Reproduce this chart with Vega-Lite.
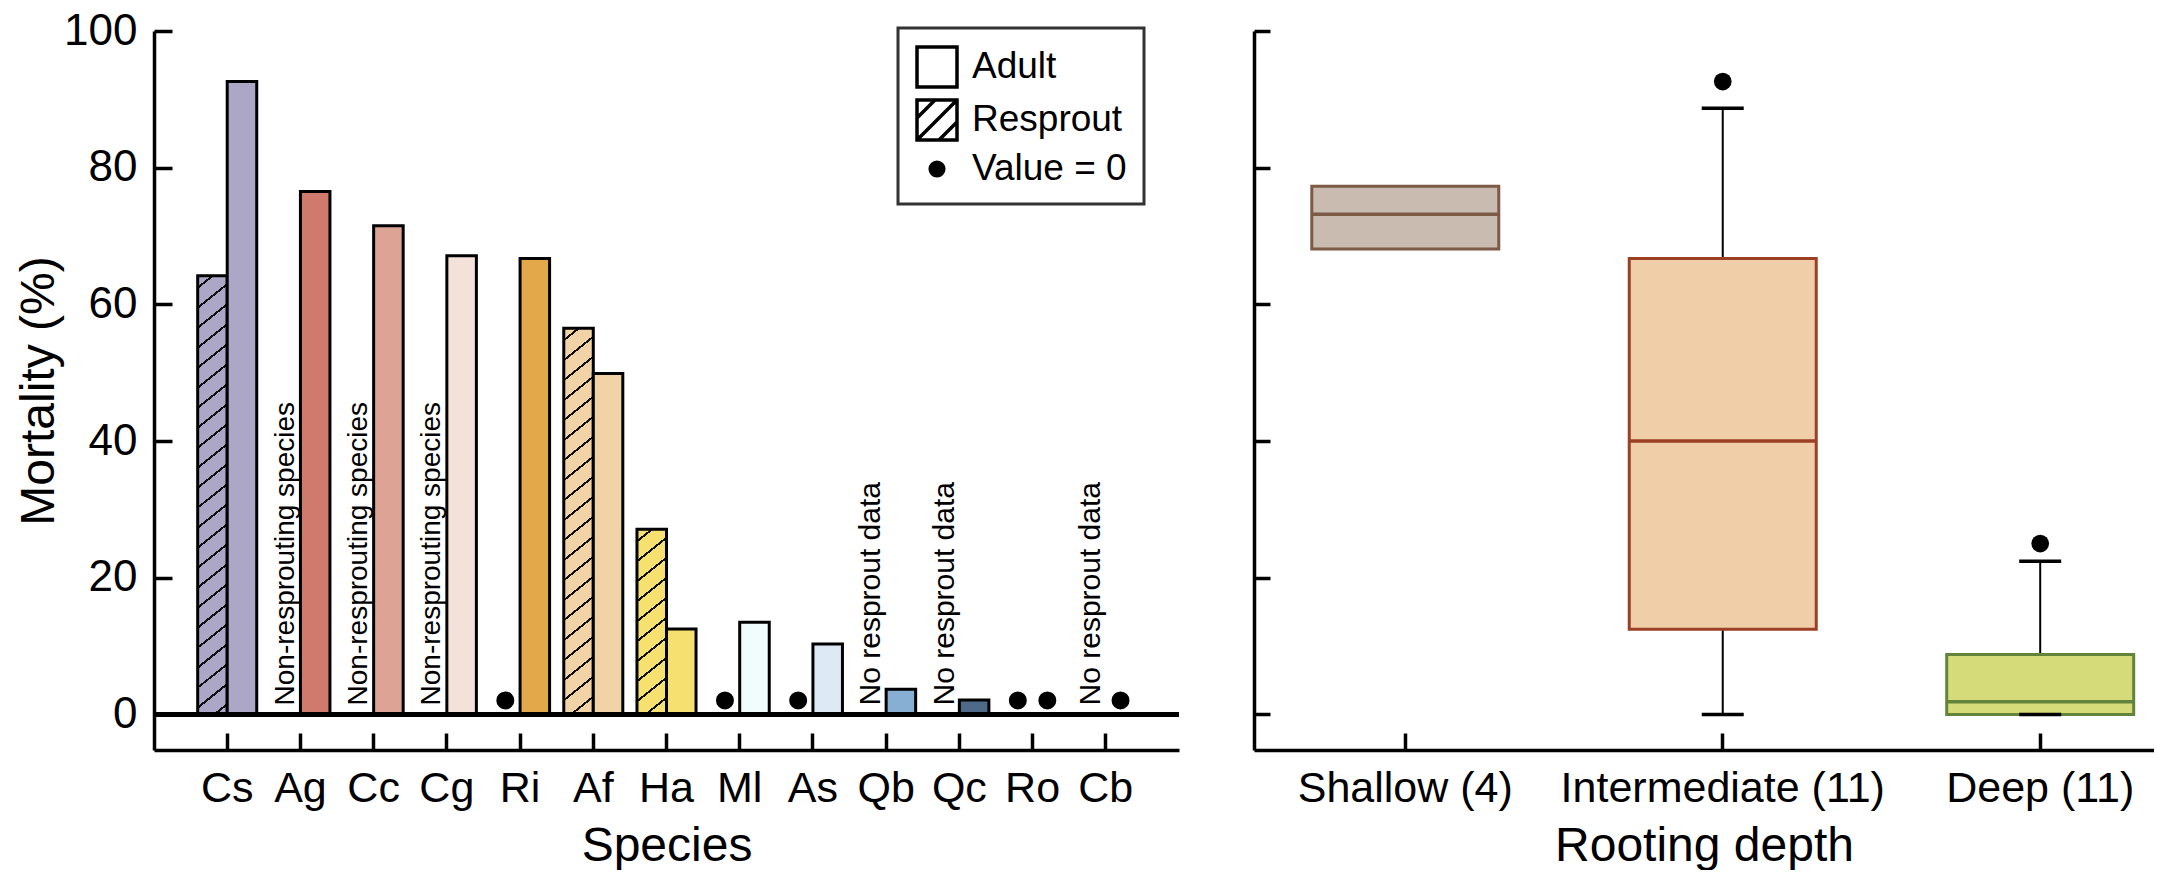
{
  "$schema": "https://vega.github.io/schema/vega-lite/v6.json",
  "padding": {"left": 15, "top": 9, "right": 0, "bottom": 0},
  "background": "white",
  "datasets": {
    "mortality": [
      {"species": "Cs", "stage": "Resprout", "mortality": 64.2},
      {"species": "Cs", "stage": "Adult", "mortality": 92.6},
      {"species": "Ag", "stage": "Resprout", "note": "Non-resprouting species"},
      {"species": "Ag", "stage": "Adult", "mortality": 76.5},
      {"species": "Cc", "stage": "Resprout", "note": "Non-resprouting species"},
      {"species": "Cc", "stage": "Adult", "mortality": 71.5},
      {"species": "Cg", "stage": "Resprout", "note": "Non-resprouting species"},
      {"species": "Cg", "stage": "Adult", "mortality": 67.1},
      {"species": "Ri", "stage": "Resprout", "mortality": 0, "marker": "Value = 0"},
      {"species": "Ri", "stage": "Adult", "mortality": 66.7},
      {"species": "Af", "stage": "Resprout", "mortality": 56.5},
      {"species": "Af", "stage": "Adult", "mortality": 49.9},
      {"species": "Ha", "stage": "Resprout", "mortality": 27.1},
      {"species": "Ha", "stage": "Adult", "mortality": 12.5},
      {"species": "Ml", "stage": "Resprout", "mortality": 0, "marker": "Value = 0"},
      {"species": "Ml", "stage": "Adult", "mortality": 13.5},
      {"species": "As", "stage": "Resprout", "mortality": 0, "marker": "Value = 0"},
      {"species": "As", "stage": "Adult", "mortality": 10.3},
      {"species": "Qb", "stage": "Resprout", "note": "No resprout data"},
      {"species": "Qb", "stage": "Adult", "mortality": 3.7},
      {"species": "Qc", "stage": "Resprout", "note": "No resprout data"},
      {"species": "Qc", "stage": "Adult", "mortality": 2.1},
      {"species": "Ro", "stage": "Resprout", "mortality": 0, "marker": "Value = 0"},
      {"species": "Ro", "stage": "Adult", "mortality": 0, "marker": "Value = 0"},
      {"species": "Cb", "stage": "Resprout", "note": "No resprout data"},
      {"species": "Cb", "stage": "Adult", "mortality": 0, "marker": "Value = 0"}
    ],
    "boxes": [
      {"depth": "Shallow (4)", "lo": 68.1, "q1": 68.1, "med": 73.2, "q3": 77.3, "hi": 77.3},
      {"depth": "Intermediate (11)", "lo": 0, "q1": 12.45, "med": 40.0, "q3": 66.7, "hi": 88.7},
      {"depth": "Deep (11)", "lo": 0, "q1": 0, "med": 1.85, "q3": 8.78, "hi": 22.4}
    ],
    "outliers": [
      {"depth": "Intermediate (11)", "mortality": 92.6},
      {"depth": "Deep (11)", "mortality": 25.0}
    ]
  },
  "spacing": 71,
  "resolve": {"scale": {"x": "independent", "y": "independent", "fill": "independent", "stroke": "independent", "color": "independent", "shape": "independent"}},
  "hconcat": [
    {
      "width": 1025,
      "height": 719,
      "data": {"name": "mortality"},
      "resolve": {"scale": {"fill": "independent", "shape": "independent"}},
      "layer": [
        {
          "transform": [{"filter": "datum.mortality > 0"}],
          "mark": {"type": "bar", "stroke": "black", "strokeWidth": 3},
          "encoding": {
            "x": {
              "field": "species", "type": "nominal",
              "scale": {"type": "band", "domain": ["Cs","Ag","Cc","Cg","Ri","Af","Ha","Ml","As","Qb","Qc","Ro","Cb"], "paddingInner": 0, "paddingOuter": 0.5},
              "axis": {"title": "Species", "titleFontSize": 48, "labelFontSize": 43, "labelAngle": 0, "tickSize": -17, "labelPadding": 34, "titlePadding": 12, "bandPosition": 0.5}
            },
            "xOffset": {"field": "stage", "type": "nominal", "scale": {"domain": ["Resprout", "Adult"], "paddingInner": 0, "paddingOuter": 0.24}},
            "y": {
              "field": "mortality", "type": "quantitative",
              "scale": {"domain": [-5.2, 100], "nice": false, "zero": false},
              "axis": {"title": "Mortality (%)", "values": [0, 20, 40, 60, 80, 100], "titleFontSize": 48, "labelFontSize": 44, "tickSize": -18, "labelPadding": 35, "titlePadding": 0}
            },
            "fill": {
              "condition": [
                {"test": "datum.species === 'Cs' && datum.stage === 'Resprout'", "value": {"gradient": "linear", "x1": 0, "y1": 0, "x2": 0.0565, "y2": 1.0507, "stops": [
                  {"offset": 0, "color": "#aca6c7"},
                  {"offset": 0.0231, "color": "#aca6c7"}, {"offset": 0.0231, "color": "#111"}, {"offset": 0.0288, "color": "#111"}, {"offset": 0.0288, "color": "#aca6c7"},
                  {"offset": 0.0664, "color": "#aca6c7"}, {"offset": 0.0664, "color": "#111"}, {"offset": 0.0720, "color": "#111"}, {"offset": 0.0720, "color": "#aca6c7"},
                  {"offset": 0.1097, "color": "#aca6c7"}, {"offset": 0.1097, "color": "#111"}, {"offset": 0.1153, "color": "#111"}, {"offset": 0.1153, "color": "#aca6c7"},
                  {"offset": 0.1529, "color": "#aca6c7"}, {"offset": 0.1529, "color": "#111"}, {"offset": 0.1585, "color": "#111"}, {"offset": 0.1585, "color": "#aca6c7"},
                  {"offset": 0.1962, "color": "#aca6c7"}, {"offset": 0.1962, "color": "#111"}, {"offset": 0.2018, "color": "#111"}, {"offset": 0.2018, "color": "#aca6c7"},
                  {"offset": 0.2394, "color": "#aca6c7"}, {"offset": 0.2394, "color": "#111"}, {"offset": 0.2450, "color": "#111"}, {"offset": 0.2450, "color": "#aca6c7"},
                  {"offset": 0.2827, "color": "#aca6c7"}, {"offset": 0.2827, "color": "#111"}, {"offset": 0.2883, "color": "#111"}, {"offset": 0.2883, "color": "#aca6c7"},
                  {"offset": 0.3259, "color": "#aca6c7"}, {"offset": 0.3259, "color": "#111"}, {"offset": 0.3315, "color": "#111"}, {"offset": 0.3315, "color": "#aca6c7"},
                  {"offset": 0.3692, "color": "#aca6c7"}, {"offset": 0.3692, "color": "#111"}, {"offset": 0.3748, "color": "#111"}, {"offset": 0.3748, "color": "#aca6c7"},
                  {"offset": 0.4124, "color": "#aca6c7"}, {"offset": 0.4124, "color": "#111"}, {"offset": 0.4180, "color": "#111"}, {"offset": 0.4180, "color": "#aca6c7"},
                  {"offset": 0.4557, "color": "#aca6c7"}, {"offset": 0.4557, "color": "#111"}, {"offset": 0.4613, "color": "#111"}, {"offset": 0.4613, "color": "#aca6c7"},
                  {"offset": 0.4989, "color": "#aca6c7"}, {"offset": 0.4989, "color": "#111"}, {"offset": 0.5045, "color": "#111"}, {"offset": 0.5045, "color": "#aca6c7"},
                  {"offset": 0.5422, "color": "#aca6c7"}, {"offset": 0.5422, "color": "#111"}, {"offset": 0.5478, "color": "#111"}, {"offset": 0.5478, "color": "#aca6c7"},
                  {"offset": 0.5854, "color": "#aca6c7"}, {"offset": 0.5854, "color": "#111"}, {"offset": 0.5911, "color": "#111"}, {"offset": 0.5911, "color": "#aca6c7"},
                  {"offset": 0.6287, "color": "#aca6c7"}, {"offset": 0.6287, "color": "#111"}, {"offset": 0.6343, "color": "#111"}, {"offset": 0.6343, "color": "#aca6c7"},
                  {"offset": 0.6719, "color": "#aca6c7"}, {"offset": 0.6719, "color": "#111"}, {"offset": 0.6776, "color": "#111"}, {"offset": 0.6776, "color": "#aca6c7"},
                  {"offset": 0.7152, "color": "#aca6c7"}, {"offset": 0.7152, "color": "#111"}, {"offset": 0.7208, "color": "#111"}, {"offset": 0.7208, "color": "#aca6c7"},
                  {"offset": 0.7584, "color": "#aca6c7"}, {"offset": 0.7584, "color": "#111"}, {"offset": 0.7641, "color": "#111"}, {"offset": 0.7641, "color": "#aca6c7"},
                  {"offset": 0.8017, "color": "#aca6c7"}, {"offset": 0.8017, "color": "#111"}, {"offset": 0.8073, "color": "#111"}, {"offset": 0.8073, "color": "#aca6c7"},
                  {"offset": 0.8449, "color": "#aca6c7"}, {"offset": 0.8449, "color": "#111"}, {"offset": 0.8506, "color": "#111"}, {"offset": 0.8506, "color": "#aca6c7"},
                  {"offset": 0.8882, "color": "#aca6c7"}, {"offset": 0.8882, "color": "#111"}, {"offset": 0.8938, "color": "#111"}, {"offset": 0.8938, "color": "#aca6c7"},
                  {"offset": 0.9314, "color": "#aca6c7"}, {"offset": 0.9314, "color": "#111"}, {"offset": 0.9371, "color": "#111"}, {"offset": 0.9371, "color": "#aca6c7"},
                  {"offset": 0.9747, "color": "#aca6c7"}, {"offset": 0.9747, "color": "#111"}, {"offset": 0.9803, "color": "#111"}, {"offset": 0.9803, "color": "#aca6c7"},
                  {"offset": 1, "color": "#aca6c7"}
                ]}},
                {"test": "datum.species === 'Af' && datum.stage === 'Resprout'", "value": {"gradient": "linear", "x1": 0, "y1": 0, "x2": 0.0646, "y2": 1.0572, "stops": [
                  {"offset": 0, "color": "#f1d3a7"},
                  {"offset": 0.0261, "color": "#f1d3a7"}, {"offset": 0.0261, "color": "#111"}, {"offset": 0.0325, "color": "#111"}, {"offset": 0.0325, "color": "#f1d3a7"},
                  {"offset": 0.0749, "color": "#f1d3a7"}, {"offset": 0.0749, "color": "#111"}, {"offset": 0.0813, "color": "#111"}, {"offset": 0.0813, "color": "#f1d3a7"},
                  {"offset": 0.1237, "color": "#f1d3a7"}, {"offset": 0.1237, "color": "#111"}, {"offset": 0.1301, "color": "#111"}, {"offset": 0.1301, "color": "#f1d3a7"},
                  {"offset": 0.1725, "color": "#f1d3a7"}, {"offset": 0.1725, "color": "#111"}, {"offset": 0.1789, "color": "#111"}, {"offset": 0.1789, "color": "#f1d3a7"},
                  {"offset": 0.2213, "color": "#f1d3a7"}, {"offset": 0.2213, "color": "#111"}, {"offset": 0.2277, "color": "#111"}, {"offset": 0.2277, "color": "#f1d3a7"},
                  {"offset": 0.2701, "color": "#f1d3a7"}, {"offset": 0.2701, "color": "#111"}, {"offset": 0.2765, "color": "#111"}, {"offset": 0.2765, "color": "#f1d3a7"},
                  {"offset": 0.3189, "color": "#f1d3a7"}, {"offset": 0.3189, "color": "#111"}, {"offset": 0.3253, "color": "#111"}, {"offset": 0.3253, "color": "#f1d3a7"},
                  {"offset": 0.3677, "color": "#f1d3a7"}, {"offset": 0.3677, "color": "#111"}, {"offset": 0.3741, "color": "#111"}, {"offset": 0.3741, "color": "#f1d3a7"},
                  {"offset": 0.4165, "color": "#f1d3a7"}, {"offset": 0.4165, "color": "#111"}, {"offset": 0.4229, "color": "#111"}, {"offset": 0.4229, "color": "#f1d3a7"},
                  {"offset": 0.4654, "color": "#f1d3a7"}, {"offset": 0.4654, "color": "#111"}, {"offset": 0.4717, "color": "#111"}, {"offset": 0.4717, "color": "#f1d3a7"},
                  {"offset": 0.5142, "color": "#f1d3a7"}, {"offset": 0.5142, "color": "#111"}, {"offset": 0.5205, "color": "#111"}, {"offset": 0.5205, "color": "#f1d3a7"},
                  {"offset": 0.5630, "color": "#f1d3a7"}, {"offset": 0.5630, "color": "#111"}, {"offset": 0.5693, "color": "#111"}, {"offset": 0.5693, "color": "#f1d3a7"},
                  {"offset": 0.6118, "color": "#f1d3a7"}, {"offset": 0.6118, "color": "#111"}, {"offset": 0.6181, "color": "#111"}, {"offset": 0.6181, "color": "#f1d3a7"},
                  {"offset": 0.6606, "color": "#f1d3a7"}, {"offset": 0.6606, "color": "#111"}, {"offset": 0.6669, "color": "#111"}, {"offset": 0.6669, "color": "#f1d3a7"},
                  {"offset": 0.7094, "color": "#f1d3a7"}, {"offset": 0.7094, "color": "#111"}, {"offset": 0.7157, "color": "#111"}, {"offset": 0.7157, "color": "#f1d3a7"},
                  {"offset": 0.7582, "color": "#f1d3a7"}, {"offset": 0.7582, "color": "#111"}, {"offset": 0.7645, "color": "#111"}, {"offset": 0.7645, "color": "#f1d3a7"},
                  {"offset": 0.8070, "color": "#f1d3a7"}, {"offset": 0.8070, "color": "#111"}, {"offset": 0.8133, "color": "#111"}, {"offset": 0.8133, "color": "#f1d3a7"},
                  {"offset": 0.8558, "color": "#f1d3a7"}, {"offset": 0.8558, "color": "#111"}, {"offset": 0.8621, "color": "#111"}, {"offset": 0.8621, "color": "#f1d3a7"},
                  {"offset": 0.9046, "color": "#f1d3a7"}, {"offset": 0.9046, "color": "#111"}, {"offset": 0.9109, "color": "#111"}, {"offset": 0.9109, "color": "#f1d3a7"},
                  {"offset": 0.9534, "color": "#f1d3a7"}, {"offset": 0.9534, "color": "#111"}, {"offset": 0.9597, "color": "#111"}, {"offset": 0.9597, "color": "#f1d3a7"},
                  {"offset": 1, "color": "#f1d3a7"}
                ]}},
                {"test": "datum.species === 'Ha' && datum.stage === 'Resprout'", "value": {"gradient": "linear", "x1": 0, "y1": 0, "x2": 0.1414, "y2": 1.1094, "stops": [
                  {"offset": 0, "color": "#f6e06f"},
                  {"offset": 0.0512, "color": "#f6e06f"}, {"offset": 0.0512, "color": "#111"}, {"offset": 0.0637, "color": "#111"}, {"offset": 0.0637, "color": "#f6e06f"},
                  {"offset": 0.1470, "color": "#f6e06f"}, {"offset": 0.1470, "color": "#111"}, {"offset": 0.1595, "color": "#111"}, {"offset": 0.1595, "color": "#f6e06f"},
                  {"offset": 0.2428, "color": "#f6e06f"}, {"offset": 0.2428, "color": "#111"}, {"offset": 0.2553, "color": "#111"}, {"offset": 0.2553, "color": "#f6e06f"},
                  {"offset": 0.3386, "color": "#f6e06f"}, {"offset": 0.3386, "color": "#111"}, {"offset": 0.3511, "color": "#111"}, {"offset": 0.3511, "color": "#f6e06f"},
                  {"offset": 0.4344, "color": "#f6e06f"}, {"offset": 0.4344, "color": "#111"}, {"offset": 0.4468, "color": "#111"}, {"offset": 0.4468, "color": "#f6e06f"},
                  {"offset": 0.5302, "color": "#f6e06f"}, {"offset": 0.5302, "color": "#111"}, {"offset": 0.5426, "color": "#111"}, {"offset": 0.5426, "color": "#f6e06f"},
                  {"offset": 0.6260, "color": "#f6e06f"}, {"offset": 0.6260, "color": "#111"}, {"offset": 0.6384, "color": "#111"}, {"offset": 0.6384, "color": "#f6e06f"},
                  {"offset": 0.7217, "color": "#f6e06f"}, {"offset": 0.7217, "color": "#111"}, {"offset": 0.7342, "color": "#111"}, {"offset": 0.7342, "color": "#f6e06f"},
                  {"offset": 0.8175, "color": "#f6e06f"}, {"offset": 0.8175, "color": "#111"}, {"offset": 0.8300, "color": "#111"}, {"offset": 0.8300, "color": "#f6e06f"},
                  {"offset": 0.9133, "color": "#f6e06f"}, {"offset": 0.9133, "color": "#111"}, {"offset": 0.9258, "color": "#111"}, {"offset": 0.9258, "color": "#f6e06f"},
                  {"offset": 1, "color": "#f6e06f"}
                ]}}
              ],
              "field": "species", "type": "nominal",
              "scale": {"domain": ["Cs","Ag","Cc","Cg","Ri","Af","Ha","Ml","As","Qb","Qc","Ro","Cb"], "range": ["#aca6c7","#cf7a6d","#dda496","#f4e1da","#e3a84a","#f1d3a7","#f6e06f","#f1fcfc","#dde9f5","#87aed3","#4f6a88","#999999","#999999"]},
              "legend": null
            }
          }
        },
        {
          "transform": [{"filter": "datum.mortality === 0"}],
          "mark": {"type": "point", "filled": true, "stroke": "black", "strokeWidth": 3.5, "opacity": 1, "size": 1817, "yOffset": -14},
          "encoding": {
            "x": {"field": "species", "type": "nominal"},
            "xOffset": {"field": "stage", "type": "nominal"},
            "y": {"field": "mortality", "type": "quantitative"},
            "fill": {
              "field": "marker", "type": "nominal",
              "scale": {"domain": ["Adult", "Resprout", "Value = 0"], "range": ["white", "white", "black"]},
              "legend": {
                "title": null, "orient": "none", "legendX": 744, "legendY": -3,
                "padding": 17, "labelFontSize": 37, "labelFont": "Liberation Sans", "labelColor": "black", "labelOffset": 13,
                "symbolSize": 1600, "rowPadding": -1, "fillColor": "white", "strokeColor": "#333333",
                "symbolStrokeColor": "black", "symbolStrokeWidth": 3.5, "symbolOpacity": 1,
                "encoding": {
                  "legend": {"strokeWidth": {"value": 3}},
                  "symbols": {"stroke": {"value": "black"}, "strokeWidth": {"value": 3.5}}
                }
              }
            },
            "shape": {
              "field": "marker", "type": "nominal",
              "scale": {"domain": ["Adult", "Resprout", "Value = 0"], "range": ["square", "M-1,-1H1V1H-1Z M-1,-0.1L-0.1,-1 M-1,1L1,-1 M0.1,1L1,0.1", "M-0.34,0A0.34,0.34 0 1,0 0.34,0A0.34,0.34 0 1,0 -0.34,0Z"]},
              "legend": {
                "title": null, "orient": "none", "legendX": 744, "legendY": -3,
                "padding": 17, "labelFontSize": 37, "labelFont": "Liberation Sans", "labelColor": "black", "labelOffset": 13,
                "symbolSize": 1600, "rowPadding": -1, "fillColor": "white", "strokeColor": "#333333",
                "symbolStrokeColor": "black", "symbolStrokeWidth": 3.5, "symbolOpacity": 1,
                "encoding": {
                  "legend": {"strokeWidth": {"value": 3}},
                  "symbols": {"stroke": {"value": "black"}, "strokeWidth": {"value": 3.5}}
                }
              }
            }
          }
        },
        {
          "transform": [{"filter": "datum.note === 'Non-resprouting species'"}],
          "mark": {"type": "text", "angle": 270, "align": "left", "baseline": "middle", "dx": 9, "fontSize": 28, "font": "Liberation Sans", "color": "black"},
          "encoding": {
            "x": {"field": "species", "type": "nominal"},
            "xOffset": {"field": "stage", "type": "nominal"},
            "y": {"datum": 0},
            "text": {"field": "note"}
          }
        },
        {
          "transform": [{"filter": "datum.note === 'No resprout data'"}],
          "mark": {"type": "text", "angle": 270, "align": "left", "baseline": "middle", "dx": 9, "fontSize": 30, "font": "Liberation Sans", "color": "black"},
          "encoding": {
            "x": {"field": "species", "type": "nominal"},
            "xOffset": {"field": "stage", "type": "nominal"},
            "y": {"datum": 0},
            "text": {"field": "note"}
          }
        },
        {
          "mark": {"type": "rule", "color": "black", "strokeWidth": 4},
          "encoding": {"y": {"datum": 0}}
        }
      ]
    },
    {
      "width": 900,
      "height": 719,
      "layer": [
        {
          "data": {"name": "boxes"},
          "transform": [{"filter": "datum.depth !== 'Shallow (4)'"}],
          "mark": {"type": "rule", "color": "black", "strokeWidth": 2},
          "encoding": {
            "x": {
              "field": "depth", "type": "nominal",
              "scale": {"type": "band", "domain": ["Shallow (4)", "Intermediate (11)", "Deep (11)"], "paddingInner": 0.411, "paddingOuter": 0.123, "align": 0.74},
              "axis": {"title": "Rooting depth", "titleFontSize": 48, "labelFontSize": 43, "labelAngle": 0, "labelLimit": 0, "tickSize": -17, "labelPadding": 34, "titlePadding": 12, "bandPosition": 0.5}
            },
            "y": {
              "field": "lo", "type": "quantitative",
              "scale": {"domain": [-5.2, 100], "nice": false, "zero": false},
              "axis": {"title": null, "labels": false, "values": [0, 20, 40, 60, 80, 100], "tickSize": -16}
            },
            "y2": {"field": "hi"}
          }
        },
        {
          "data": {"name": "boxes"},
          "mark": {"type": "bar", "strokeWidth": 3},
          "encoding": {
            "x": {"field": "depth", "type": "nominal"},
            "y": {"field": "q1", "type": "quantitative"},
            "y2": {"field": "q3"},
            "fill": {"field": "depth", "type": "nominal", "scale": {"domain": ["Shallow (4)", "Intermediate (11)", "Deep (11)"], "range": ["#c9bbb0", "#f0cfa8", "#d5db79"]}, "legend": null},
            "stroke": {"field": "depth", "type": "nominal", "scale": {"domain": ["Shallow (4)", "Intermediate (11)", "Deep (11)"], "range": ["#7c5a45", "#9c3f25", "#62843a"]}, "legend": null}
          }
        },
        {
          "data": {"name": "boxes"},
          "mark": {"type": "tick", "thickness": 3.5, "size": 187, "opacity": 1},
          "encoding": {
            "x": {"field": "depth", "type": "nominal"},
            "y": {"field": "med", "type": "quantitative"},
            "color": {"field": "depth", "type": "nominal", "scale": {"domain": ["Shallow (4)", "Intermediate (11)", "Deep (11)"], "range": ["#7c5a45", "#9c3f25", "#62843a"]}, "legend": null}
          }
        },
        {
          "data": {"name": "boxes"},
          "transform": [{"filter": "datum.depth !== 'Shallow (4)'"}],
          "mark": {"type": "tick", "thickness": 3.5, "size": 42, "color": "black", "opacity": 1},
          "encoding": {
            "x": {"field": "depth", "type": "nominal"},
            "y": {"field": "lo", "type": "quantitative"}
          }
        },
        {
          "data": {"name": "boxes"},
          "transform": [{"filter": "datum.depth !== 'Shallow (4)'"}],
          "mark": {"type": "tick", "thickness": 3.5, "size": 42, "color": "black", "opacity": 1},
          "encoding": {
            "x": {"field": "depth", "type": "nominal"},
            "y": {"field": "hi", "type": "quantitative"}
          }
        },
        {
          "data": {"name": "outliers"},
          "mark": {"type": "point", "filled": true, "color": "black", "opacity": 1, "size": 314},
          "encoding": {
            "x": {"field": "depth", "type": "nominal"},
            "y": {"field": "mortality", "type": "quantitative"}
          }
        }
      ]
    }
  ],
  "config": {
    "font": "Liberation Sans",
    "view": {"stroke": null},
    "axis": {
      "grid": false,
      "domainColor": "black", "domainWidth": 3.5,
      "tickColor": "black", "tickWidth": 3.5,
      "labelColor": "black", "titleColor": "black",
      "titleFontWeight": "normal",
      "labelFont": "Liberation Sans", "titleFont": "Liberation Sans"
    }
  }
}
